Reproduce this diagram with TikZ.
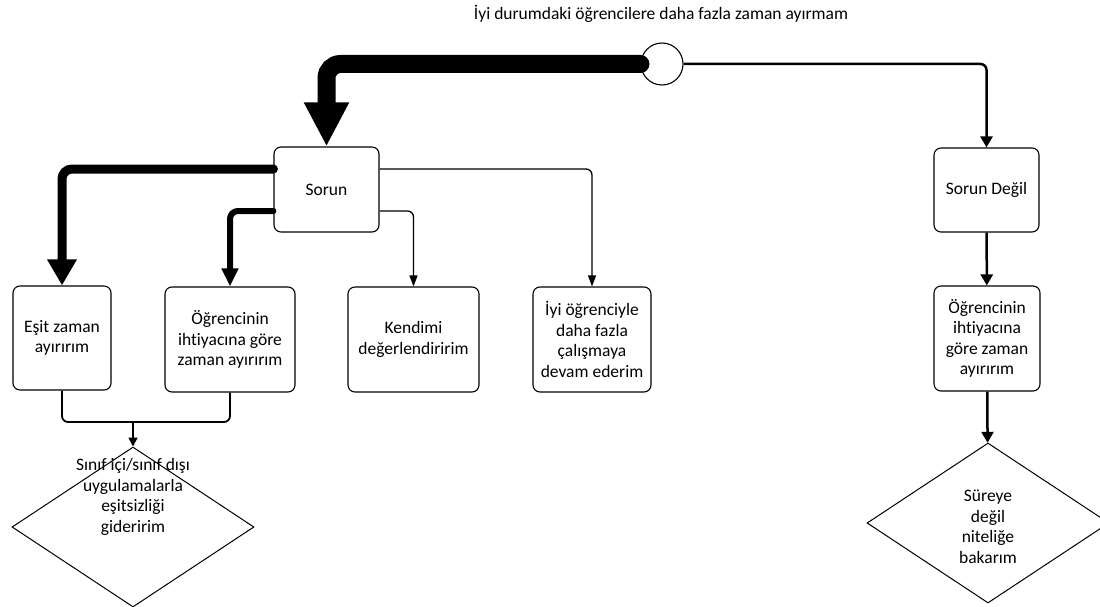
\documentclass[tikz,border=0pt]{standalone}
\usepackage{fontspec}
\setmainfont{Carlito}[Ligatures=NoCommon]
\usetikzlibrary{arrows.meta,shapes.geometric}
\begin{document}
\begin{tikzpicture}[x=1pt,y=-1pt,
  every node/.style={font=\fontsize{17.5}{20.5}\selectfont},
  box/.style={draw,rounded corners=7pt,line width=1.1pt,align=center,inner sep=0pt},
  karar/.style={draw,diamond,line width=1pt,inner sep=0pt,minimum width=242pt,minimum height=160pt},
  thin/.style={line width=1.3pt,rounded corners=6pt,-{Triangle[width=8pt,length=11pt]}},
  medium/.style={line width=2.5pt,rounded corners=6pt,-{Triangle[width=12pt,length=11pt]}}]
\useasboundingbox (0,0) rectangle (1100,607);

\node (baslik) at (661,14) {İyi durumdaki öğrencilere daha fazla zaman ayırmam};
\node[draw,circle,line width=1.1pt,minimum size=42pt,inner sep=0pt] (c) at (662,64) {};

\node[box,minimum width=105pt,minimum height=85pt] (sorun) at (326.5,189.5) {Sorun};
\node[box,minimum width=105pt,minimum height=84pt] (sorundegil) at (986.5,190) {Sorun Değil};

\node[box,minimum width=98pt,minimum height=104pt] (esit) at (62,338) {Eşit zaman\\ayırırım};
\node[box,minimum width=130pt,minimum height=105pt] (ogr) at (230,339.5) {Öğrencinin\\ihtiyacına göre\\zaman ayırırım};
\node[box,minimum width=131pt,minimum height=105pt] (kendimi) at (413.5,339.5) {Kendimi\\değerlendiririm};
\node[box,minimum width=118pt,minimum height=105pt] (iyi) at (592,339.5) {İyi öğrenciyle\\daha fazla\\çalışmaya\\devam ederim};
\node[box,minimum width=106pt,minimum height=105pt] (ogr2) at (987,338.5) {Öğrencinin\\ihtiyacına\\göre zaman\\ayırırım};

\node[karar] (dl) at (133,527) {};
\node[align=center] (dltext) at (133,497) {Sınıf içi/sınıf dışı\\uygulamalarla\\eşitsizliği\\gideririm};
\node[karar] (dr) at (988,523) {};
\node[align=center] (drtext) at (988,527) {Süreye\\değil\\niteliğe\\bakarım};

\draw[line width=18pt,line cap=round,rounded corners=14pt,-{Triangle[width=42pt,length=44pt]}] (c.west) -| (sorun.north);
\draw[medium] (c.east) -| (sorundegil.north);

\draw[line width=9pt,line cap=round,rounded corners=10pt,-{Triangle[width=28pt,length=26pt]}] ([yshift=20.5pt]sorun.west) -| (esit.north);
\draw[line width=6pt,line cap=round,rounded corners=8pt,-{Triangle[width=16pt,length=18pt]}] ([yshift=-21.5pt]sorun.west) -| (ogr.north);
\draw[thin] ([yshift=-21.5pt]sorun.east) -| (kendimi.north);
\draw[thin] ([yshift=20.5pt]sorun.east) -| (iyi.north);

\coordinate (j) at (133,422);
\draw[line width=1.8pt,rounded corners=6pt] (esit.south) |- (j) -| (ogr.south);
\draw[line width=1.8pt,-{Triangle[width=9pt,length=9pt]}] (j) -- (dl.north);

\draw[medium] (sorundegil) -- (ogr2);
\draw[medium] (ogr2) -- (dr);
\end{tikzpicture}
\end{document}
